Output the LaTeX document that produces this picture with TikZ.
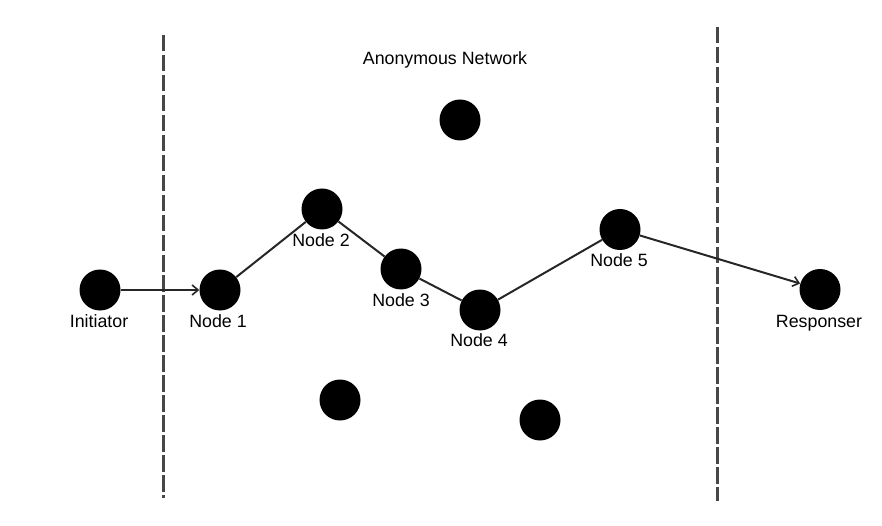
\documentclass[tikz,border=0pt]{standalone}
\usepackage{fontspec}
\setmainfont{Liberation Sans}
\usetikzlibrary{arrows.meta}
\begin{document}
\begin{tikzpicture}[x=1pt,y=-1pt,
  dot/.style={circle,fill=black,inner sep=0pt,minimum size=41pt},
  lbl/.style={anchor=base,inner sep=0pt,font=\fontsize{17.8}{20}\selectfont},
  edge/.style={line width=2pt,draw=black!85},
  arr/.style={edge,-{Straight Barb[length=6pt,width=10pt,line width=1.6pt]}},
  sep/.style={line width=3pt,draw=black!72,dash pattern=on 16.5pt off 3.5pt}]
\useasboundingbox (0,0) rectangle (882,526);
\coordinate (l1) at (163,35);
\coordinate (l2) at (163,498);
\coordinate (r1) at (717,27);
\coordinate (r2) at (717,501);
\draw[sep] (l1) -- (l2);
\draw[sep] (r1) -- (r2);
\node[lbl] (title) at (445,65) {Anonymous Network};
\node[dot] (ini) at (100,290) {};
\node[dot] (n1) at (220,290) {};
\node[dot] (n2) at (322,209) {};
\node[dot] (n3) at (401,269) {};
\node[dot] (n4) at (480,310) {};
\node[dot] (n5) at (620,229.5) {};
\node[dot] (res) at (820,289.5) {};
\node[dot] (x1) at (460,120) {};
\node[dot] (x2) at (340,400) {};
\node[dot] (x3) at (540,420) {};
\node[lbl] (tini) at (99,327.5) {Initiator};
\node[lbl] (tn1) at (218,327.5) {Node 1};
\node[lbl] (tn2) at (321,246.5) {Node 2};
\node[lbl] (tn3) at (401,306.5) {Node 3};
\node[lbl] (tn4) at (479,346.5) {Node 4};
\node[lbl] (tn5) at (619,267) {Node 5};
\node[lbl] (tres) at (819,327.5) {Responser};
\draw[edge] (n1) -- (n2) -- (n3) -- (n4) -- (n5);
\draw[arr] (ini) -- (n1);
\draw[arr] (n5) -- (res);
\end{tikzpicture}
\end{document}
